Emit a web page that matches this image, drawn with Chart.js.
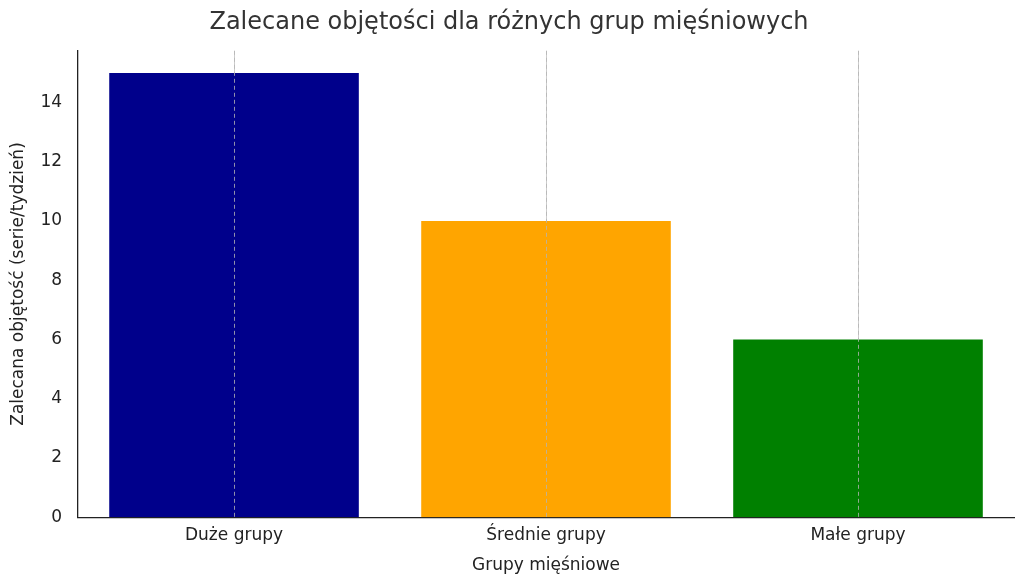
<!DOCTYPE html>
<html>
<head>
<meta charset="utf-8">
<script src="https://cdn.jsdelivr.net/npm/chart.js@4"></script>
<style>
  body { margin: 0; background: #fff; }
</style>
</head>
<body>
<canvas id="chart" width="1024" height="580"></canvas>
<script>
const categories = ['Duże grupy', 'Średnie grupy', 'Małe grupy'];
const volumes = [15, 10, 6];
const barColors = ['#00008b', '#ffa500', '#008000'];
const yTicks = [0, 2, 4, 6, 8, 10, 12, 14];

Chart.defaults.font.family = 'DejaVu Sans';
Chart.defaults.color = '#333';

new Chart(document.getElementById('chart').getContext('2d'), {
  type: 'bar',
  data: {
    labels: categories,
    datasets: [{
      data: volumes,
      backgroundColor: barColors,
      categoryPercentage: 1,
      barPercentage: 0.8,
    }],
  },
  options: {
    responsive: false,
    devicePixelRatio: 1,
    animation: false,
    layout: { padding: { left: 4, right: 10, top: 0, bottom: 0 } },
    plugins: {
      legend: { display: false },
      tooltip: { enabled: false },
      title: {
        display: true,
        text: 'Zalecane objętości dla różnych grup mięśniowych',
        font: { size: 24, weight: 'normal' },
        color: '#333',
        padding: { top: 8, bottom: 14 },
      },
    },
    scales: {
      x: {
        grid: {
          display: true,
          offset: false,
          color: '#ccc',
          drawTicks: false,
          tickBorderDash: [4, 3],
        },
        border: { display: true, color: '#222', width: 1.3, dash: undefined },
        ticks: { font: { size: 17 }, color: '#222', padding: 8 },
        title: { display: true, text: 'Grupy mięśniowe', font: { size: 17 }, color: '#222', padding: { top: 2 } },
      },
      y: {
        min: 0,
        max: 15.75,
        grid: { display: false },
        border: { display: true, color: '#222', width: 1.3 },
        afterBuildTicks: axis => { axis.ticks = yTicks.map(v => ({ value: v })); },
        ticks: { font: { size: 17 }, color: '#222', padding: 8 },
        title: { display: true, text: 'Zalecana objętość (serie/tydzień)', font: { size: 17 }, color: '#222' },
      },
    },
  },
  plugins: [{
    id: 'dashedGrid',
    beforeDatasetsDraw(chart) {},
    afterDatasetsDraw(chart) {
      // vertical dashed lines at category centres, drawn over the bars like the reference
      const { ctx, scales: { x }, chartArea } = chart;
      ctx.save();
      ctx.strokeStyle = 'rgba(180,180,180,0.8)';
      ctx.setLineDash([4, 3]);
      ctx.lineWidth = 1;
      categories.forEach((c, i) => {
        const px = Math.round(x.getPixelForValue(i)) + 0.5;
        ctx.beginPath();
        ctx.moveTo(px, chartArea.top);
        ctx.lineTo(px, chartArea.bottom);
        ctx.stroke();
      });
      ctx.restore();
    },
  }],
});
</script>
</body>
</html>
